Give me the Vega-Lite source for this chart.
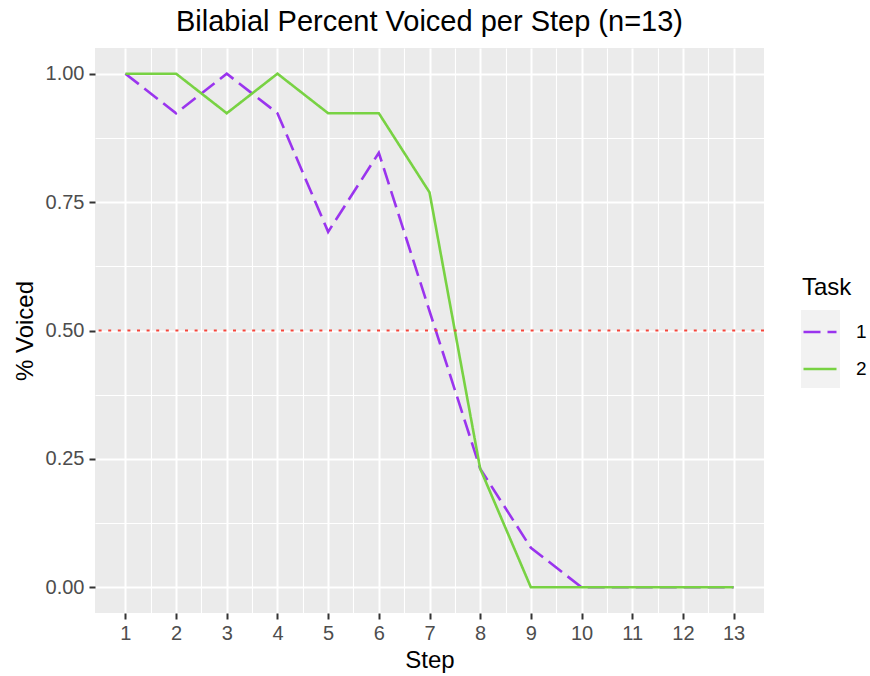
{
  "$schema": "https://vega.github.io/schema/vega-lite/v6.json",
  "width": 669,
  "height": 565,
  "autosize": "none",
  "padding": {"left": 95, "top": 48, "right": 106, "bottom": 63},
  "background": "white",
  "view": {"fill": "#EBEBEB", "stroke": null},
  "title": {
    "text": "Bilabial Percent Voiced per Step (n=13)",
    "fontSize": 29,
    "fontWeight": "normal",
    "color": "black",
    "anchor": "middle",
    "frame": "group",
    "font": "Liberation Sans",
    "baseline": "alphabetic",
    "offset": -12
  },
  "config": {
    "font": "Liberation Sans",
    "view": {"fill": "#EBEBEB", "stroke": null},
    "axis": {
      "domain": false,
      "tickColor": "#333333",
      "tickWidth": 2,
      "tickSize": 6,
      "labelColor": "#4D4D4D",
      "labelFontSize": 20,
      "labelFont": "Liberation Sans",
      "gridColor": "#FFFFFF",
      "titleFontWeight": "normal",
      "titleFontSize": 24,
      "titleColor": "black",
      "titleFont": "Liberation Sans"
    }
  },
  "datasets": {
    "voiced": [
      {"step": 1, "value": 1.0, "task": "1"},
      {"step": 2, "value": 0.923, "task": "1"},
      {"step": 3, "value": 1.0, "task": "1"},
      {"step": 4, "value": 0.923, "task": "1"},
      {"step": 5, "value": 0.692, "task": "1"},
      {"step": 6, "value": 0.846, "task": "1"},
      {"step": 7, "value": 0.538, "task": "1"},
      {"step": 8, "value": 0.231, "task": "1"},
      {"step": 9, "value": 0.077, "task": "1"},
      {"step": 10, "value": 0.0, "task": "1"},
      {"step": 11, "value": 0.0, "task": "1"},
      {"step": 12, "value": 0.0, "task": "1"},
      {"step": 13, "value": 0.0, "task": "1"},
      {"step": 1, "value": 1.0, "task": "2"},
      {"step": 2, "value": 1.0, "task": "2"},
      {"step": 3, "value": 0.923, "task": "2"},
      {"step": 4, "value": 1.0, "task": "2"},
      {"step": 5, "value": 0.923, "task": "2"},
      {"step": 6, "value": 0.923, "task": "2"},
      {"step": 7, "value": 0.769, "task": "2"},
      {"step": 8, "value": 0.231, "task": "2"},
      {"step": 9, "value": 0.0, "task": "2"},
      {"step": 10, "value": 0.0, "task": "2"},
      {"step": 11, "value": 0.0, "task": "2"},
      {"step": 12, "value": 0.0, "task": "2"},
      {"step": 13, "value": 0.0, "task": "2"}
    ],
    "keys": [{"key": "1"}, {"key": "2"}],
    "threshold": [{"y": 0.5}]
  },
  "layer": [
    {
      "data": {"name": "voiced"},
      "mark": {"type": "line", "opacity": 0},
      "encoding": {
        "x": {
          "field": "step", "type": "quantitative",
          "scale": {"domain": [0.4, 13.6], "nice": false, "zero": false},
          "axis": {"orient": "top", "values": [1.5, 2.5, 3.5, 4.5, 5.5, 6.5, 7.5, 8.5, 9.5, 10.5, 11.5, 12.5], "grid": true, "gridWidth": 1.1, "labels": false, "ticks": false, "domain": false, "title": null}
        },
        "y": {
          "field": "value", "type": "quantitative",
          "scale": {"domain": [-0.05, 1.05], "nice": false, "zero": false},
          "axis": {"orient": "right", "values": [0.125, 0.375, 0.625, 0.875], "grid": true, "gridWidth": 1.1, "labels": false, "ticks": false, "domain": false, "title": null}
        }
      }
    },
    {
      "data": {"name": "keys"},
      "mark": {"type": "point", "opacity": 0, "filled": true},
      "encoding": {
        "fill": {
          "field": "key", "type": "nominal",
          "scale": {"range": ["#F2F2F2", "#F2F2F2"]},
          "legend": {
            "orient": "none", "legendX": 706, "legendY": 262,
            "title": null, "symbolType": "square", "symbolSize": 1521,
            "symbolStrokeWidth": 0, "symbolOpacity": 1, "rowPadding": 0,
            "labelOpacity": 0, "padding": 0, "zindex": 0,
            "encode": {"symbols": {"update": {"opacity": {"value": 1}, "fill": {"value": "#F2F2F2"}, "strokeWidth": {"value": 0}}}}
          }
        }
      }
    },
    {
      "data": {"name": "voiced"},
      "mark": {"type": "line", "strokeWidth": 2.6},
      "encoding": {
        "x": {
          "field": "step", "type": "quantitative",
          "axis": {"orient": "bottom", "values": [1, 2, 3, 4, 5, 6, 7, 8, 9, 10, 11, 12, 13], "grid": true, "gridWidth": 2, "title": "Step", "labelPadding": 4, "titlePadding": 5}
        },
        "y": {
          "field": "value", "type": "quantitative",
          "axis": {"orient": "left", "values": [0, 0.25, 0.5, 0.75, 1], "format": ".2f", "grid": true, "gridWidth": 2, "title": "% Voiced", "labelPadding": 5, "titlePadding": 8}
        },
        "color": {
          "field": "task", "type": "nominal",
          "scale": {"domain": ["1", "2"], "range": ["#9A34EE", "#78D243"]},
          "legend": {
            "orient": "none", "legendX": 707, "legendY": 228,
            "title": "Task", "titleFontSize": 24, "titleFontWeight": "normal", "titleColor": "black",
            "labelFontSize": 19, "labelColor": "black", "symbolType": "stroke", "symbolSize": 1089,
            "symbolStrokeWidth": 2.4, "rowPadding": 9, "labelOffset": 18, "padding": 0, "titlePadding": 14, "zindex": 1
          }
        },
        "strokeDash": {
          "field": "task", "type": "nominal",
          "scale": {"domain": ["1", "2"], "range": [[17, 7], [1, 0]]}
        }
      }
    },
    {
      "data": {"name": "threshold"},
      "mark": {"type": "rule", "color": "#F5453B", "strokeWidth": 2.2, "strokeDash": [3, 6.6]},
      "encoding": {
        "y": {"field": "y", "type": "quantitative", "axis": null}
      }
    }
  ],
  "resolve": {"axis": {"x": "independent", "y": "independent"}}
}
